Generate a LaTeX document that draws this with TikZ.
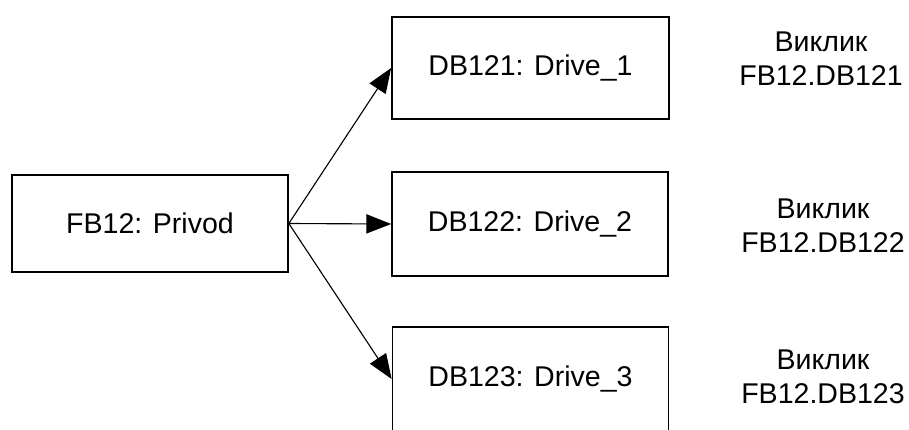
\documentclass[tikz,border=0pt]{standalone}
\usepackage{fontspec}
\setmainfont{Liberation Sans}
\usetikzlibrary{arrows.meta}

\begin{document}
\begin{tikzpicture}[
		block/.style={draw, black, line width=1.2pt, inner sep=0pt, font=\fontsize{20.3pt}{24.2pt}\selectfont},
		call/.style={align=center, inner sep=0pt, font=\fontsize{20.3pt}{24.2pt}\selectfont},
		link/.style={-{Triangle[length=6.2mm,width=4.8mm]}, line width=0.8pt, black}]
		\useasboundingbox (0,0) rectangle (22.725,10.725);
		% caller
		\node [block, minimum width=6.9cm, minimum height=2.425cm] (fb) at (3.75,5.1375) {FB12: Privod};
		% instance data blocks
		\node [block, minimum width=6.925cm, minimum height=2.55cm] (db1) at (13.2625,9.025) {DB121: Drive\_1};
		\node [block, minimum width=6.9cm, minimum height=2.6cm] (db2) at (13.25,5.125) {DB122: Drive\_2};
		\node [block, minimum width=6.9cm, minimum height=2.6cm] (db3) at (13.2625,1.25) {DB123: Drive\_3};
		\draw [link] (fb.east)--(db1.west);
		\draw [link] (fb.east)--(db2.west);
		\draw [link] (fb.east)--(db3.west);
		% calls
		\node [call] (c1) at (20.525,9.2625) {Виклик\\FB12.DB121};
		\node [call] (c2) at (20.575,5.075) {Виклик\\FB12.DB122};
		\node [call] (c3) at (20.575,1.3125) {Виклик\\FB12.DB123};
	  \end{tikzpicture}
\end{document}
